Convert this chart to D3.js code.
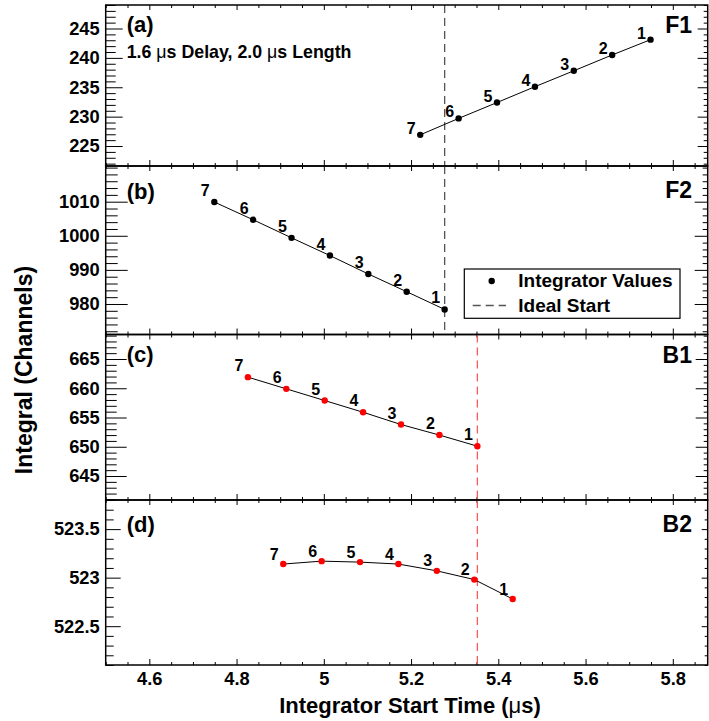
<!DOCTYPE html>
<html>
<head>
<meta charset="utf-8">
<script src="https://cdn.jsdelivr.net/npm/d3@7"></script>
<style>
  html, body { margin: 0; padding: 0; background: #fff; }
  svg { display: block; font-family: "Liberation Sans", Arial, Helvetica, sans-serif; font-weight: bold; }
</style>
</head>
<body>
<svg id="chart" width="709" height="721"></svg>
<script>
// ---- data -------------------------------------------------------------
const pointIds = [1, 2, 3, 4, 5, 6, 7];

const f1Start    = [5.749, 5.661, 5.573, 5.484, 5.397, 5.309, 5.221];
const f1Integral = [243.1, 240.5, 237.8, 235.1, 232.4, 229.7, 226.9];

const f2Start    = [5.277, 5.190, 5.102, 5.014, 4.926, 4.838, 4.749];
const f2Integral = [978.4, 983.6, 988.8, 994.2, 999.4, 1004.7, 1009.9];

const b1Start    = [5.352, 5.265, 5.177, 5.090, 5.002, 4.914, 4.826];
const b1Integral = [650.1, 652.0, 653.8, 655.9, 657.9, 659.9, 661.9];

const b2Start    = [5.433, 5.345, 5.259, 5.171, 5.083, 4.995, 4.907];
const b2Integral = [522.78, 522.98, 523.07, 523.14, 523.16, 523.17, 523.14];

const channelNames = ["F1", "F2", "B1", "B2"];
const panelTags    = ["(a)", "(b)", "(c)", "(d)"];
const idealStart   = [5.277, 5.277, 5.352, 5.352];

const xRange      = [4.5, 5.88];
const xTickValues = [4.6, 4.8, 5.0, 5.2, 5.4, 5.6, 5.8];
const xMinorStep  = 0.05;

const yRanges = [[221.6, 249.0], [971.05, 1020.47], [640.9, 669.19], [522.1, 523.8]];
const yTickValues = [
  [225, 230, 235, 240, 245],
  [980, 990, 1000, 1010],
  [645, 650, 655, 660, 665],
  [522.5, 523, 523.5]
];
const yMinorSteps = [1, 2, 1, 0.1];

const legendLabels = ["Integrator Values", "Ideal Start"];

// ---- layout -----------------------------------------------------------
const svg = d3.select("#chart");
const left = 105.7, right = 707.7;
const panels = [
  { top: 5,     bottom: 166,   start: f1Start, integral: f1Integral, dot: "#000", ideal: "#555",
    tagY: 32.3,  nameY: 33.3,  lblDy: -1,   tickL: [17, 10], tickR: [10, 4] },
  { top: 166,   bottom: 334.5, start: f2Start, integral: f2Integral, dot: "#000", ideal: "#555",
    tagY: 199,   nameY: 198.3, lblDy: -6,   tickL: [22, 12], tickR: [13, 5] },
  { top: 334.5, bottom: 500,   start: b1Start, integral: b1Integral, dot: "#ff0000", ideal: "#ff5a5a",
    tagY: 362.3, nameY: 363.3, lblDy: -6,   tickL: [21, 11], tickR: [12, 4] },
  { top: 500,   bottom: 665,   start: b2Start, integral: b2Integral, dot: "#ff0000", ideal: "#ff5a5a",
    tagY: 532.3, nameY: 531.7, lblDy: -4.5, tickL: [15, 8],  tickR: [6, 3] }
];

const x = d3.scaleLinear().domain(xRange).range([left, right]);

function stepValues(domain, step) {
  const out = [];
  const k0 = Math.ceil(domain[0] / step - 1e-9), k1 = Math.floor(domain[1] / step + 1e-9);
  for (let k = k0; k <= k1; k++) out.push(+(k * step).toFixed(6));
  return out;
}
const xMinor = stepValues(xRange, xMinorStep).filter(v => !xTickValues.some(t => Math.abs(t - v) < 1e-6));

function styleAxis(g, size) {
  g.attr("font-family", null).attr("font-size", null);
  g.select(".domain").remove();
  g.selectAll("line").attr("stroke", "#000").attr("stroke-width", 1);
  g.selectAll("text").attr("fill", "#000").style("font-size", size + "px").style("font-weight", "bold");
}

panels.forEach((p, i) => {
  const y = d3.scaleLinear().domain(yRanges[i]).range([p.bottom, p.top]);
  const g = svg.append("g");
  const yMinor = stepValues(yRanges[i], yMinorSteps[i]).filter(v => !yTickValues[i].some(t => Math.abs(t - v) < 1e-6));

  // left axis: labelled majors + minors, ticks pointing inward
  g.append("g").attr("transform", `translate(${left},0)`)
    .call(d3.axisLeft(y).tickValues(yTickValues[i]).tickFormat(d3.format("~g"))
      .tickSizeInner(-p.tickL[0]).tickSizeOuter(0).tickPadding(6))
    .call(a => styleAxis(a, 18.3));
  g.append("g").attr("transform", `translate(${left},0)`)
    .call(d3.axisLeft(y).tickValues(yMinor).tickFormat("").tickSizeInner(-p.tickL[1]).tickSizeOuter(0))
    .call(a => styleAxis(a, 18));

  // right axis mirror ticks
  g.append("g").attr("transform", `translate(${right},0)`)
    .call(d3.axisRight(y).tickValues(yTickValues[i]).tickFormat("").tickSizeInner(-p.tickR[0]).tickSizeOuter(0))
    .call(a => styleAxis(a, 18));
  g.append("g").attr("transform", `translate(${right},0)`)
    .call(d3.axisRight(y).tickValues(yMinor).tickFormat("").tickSizeInner(-p.tickR[1]).tickSizeOuter(0))
    .call(a => styleAxis(a, 18));

  // bottom axis (labels only on the last panel), ticks pointing up
  const last = i === panels.length - 1;
  g.append("g").attr("transform", `translate(0,${p.bottom})`)
    .call(d3.axisBottom(x).tickValues(xTickValues).tickFormat(last ? d3.format("~g") : "")
      .tickSizeInner(-6).tickSizeOuter(0).tickPadding(7))
    .call(a => styleAxis(a, 18.3));
  g.append("g").attr("transform", `translate(0,${p.bottom})`)
    .call(d3.axisBottom(x).tickValues(xMinor).tickFormat("").tickSizeInner(-3).tickSizeOuter(0))
    .call(a => styleAxis(a, 18));

  // top axis ticks pointing down
  g.append("g").attr("transform", `translate(0,${p.top})`)
    .call(d3.axisTop(x).tickValues(xTickValues).tickFormat("").tickSizeInner(-5).tickSizeOuter(0))
    .call(a => styleAxis(a, 18));
  g.append("g").attr("transform", `translate(0,${p.top})`)
    .call(d3.axisTop(x).tickValues(xMinor).tickFormat("").tickSizeInner(-3).tickSizeOuter(0))
    .call(a => styleAxis(a, 18));

  // ideal start marker
  g.append("line")
    .attr("x1", x(idealStart[i])).attr("x2", x(idealStart[i]))
    .attr("y1", p.top).attr("y2", p.bottom)
    .attr("stroke", p.ideal).attr("stroke-width", 1.3).attr("stroke-dasharray", "8,5");

  // integrator curve
  const pts = pointIds.map((id, k) => ({ id, sx: p.start[k], sy: p.integral[k] }));
  g.append("path").datum(pts)
    .attr("fill", "none").attr("stroke", "#000").attr("stroke-width", 1)
    .attr("d", d3.line().x(d => x(d.sx)).y(d => y(d.sy)));

  g.selectAll("circle.pt").data(pts).join("circle")
    .attr("class", "pt")
    .attr("cx", d => x(d.sx)).attr("cy", d => y(d.sy)).attr("r", 3.2)
    .attr("fill", p.dot);

  g.selectAll("text.pid").data(pts).join("text")
    .attr("class", "pid")
    .attr("x", d => x(d.sx) - 9).attr("y", d => y(d.sy) + p.lblDy)
    .attr("text-anchor", "middle").style("font-size", "16px")
    .text(d => d.id);

  // frame
  g.append("rect")
    .attr("x", left).attr("y", p.top).attr("width", right - left).attr("height", p.bottom - p.top)
    .attr("fill", "none").attr("stroke", "#000").attr("stroke-width", 1.5);

  // panel tag and channel name
  g.append("text").attr("x", 126.7).attr("y", p.tagY).style("font-size", "22px").text(panelTags[i]);
  g.append("text").attr("x", 692).attr("y", p.nameY).attr("text-anchor", "end")
    .style("font-size", "23px").text(channelNames[i]);
});

// settings note in the first panel
const note = svg.append("text").attr("x", 126.7).attr("y", 57.5).style("font-size", "17.8px");
note.append("tspan").text("1.6 ");
note.append("tspan").style("font-weight", "normal").text("\u03bc");
note.append("tspan").text("s Delay, 2.0 ");
note.append("tspan").style("font-weight", "normal").text("\u03bc");
note.append("tspan").text("s Length");

// legend
const lg = svg.append("g");
lg.append("rect").attr("x", 464.3).attr("y", 269).attr("width", 215.7).attr("height", 49.3)
  .attr("fill", "#fff").attr("stroke", "#000").attr("stroke-width", 1.2);
lg.append("circle").attr("cx", 491.7).attr("cy", 281).attr("r", 3.2).attr("fill", "#000");
lg.append("line").attr("x1", 472.7).attr("x2", 506).attr("y1", 305.5).attr("y2", 305.5)
  .attr("stroke", "#555").attr("stroke-width", 1.3).attr("stroke-dasharray", "8,5");
lg.selectAll("text").data(legendLabels).join("text")
  .attr("x", 518.3).attr("y", (d, k) => [286.7, 311.7][k])
  .style("font-size", "19px").text(d => d);

// axis titles
const xt = svg.append("text").attr("x", 410).attr("y", 713).attr("text-anchor", "middle").style("font-size", "22px");
xt.append("tspan").text("Integrator Start Time (");
xt.append("tspan").style("font-weight", "normal").text("\u03bc");
xt.append("tspan").text("s)");

svg.append("text")
  .attr("transform", "translate(31.7,370) rotate(-90)")
  .attr("text-anchor", "middle").style("font-size", "23px")
  .text("Integral (Channels)");
</script>
</body>
</html>
